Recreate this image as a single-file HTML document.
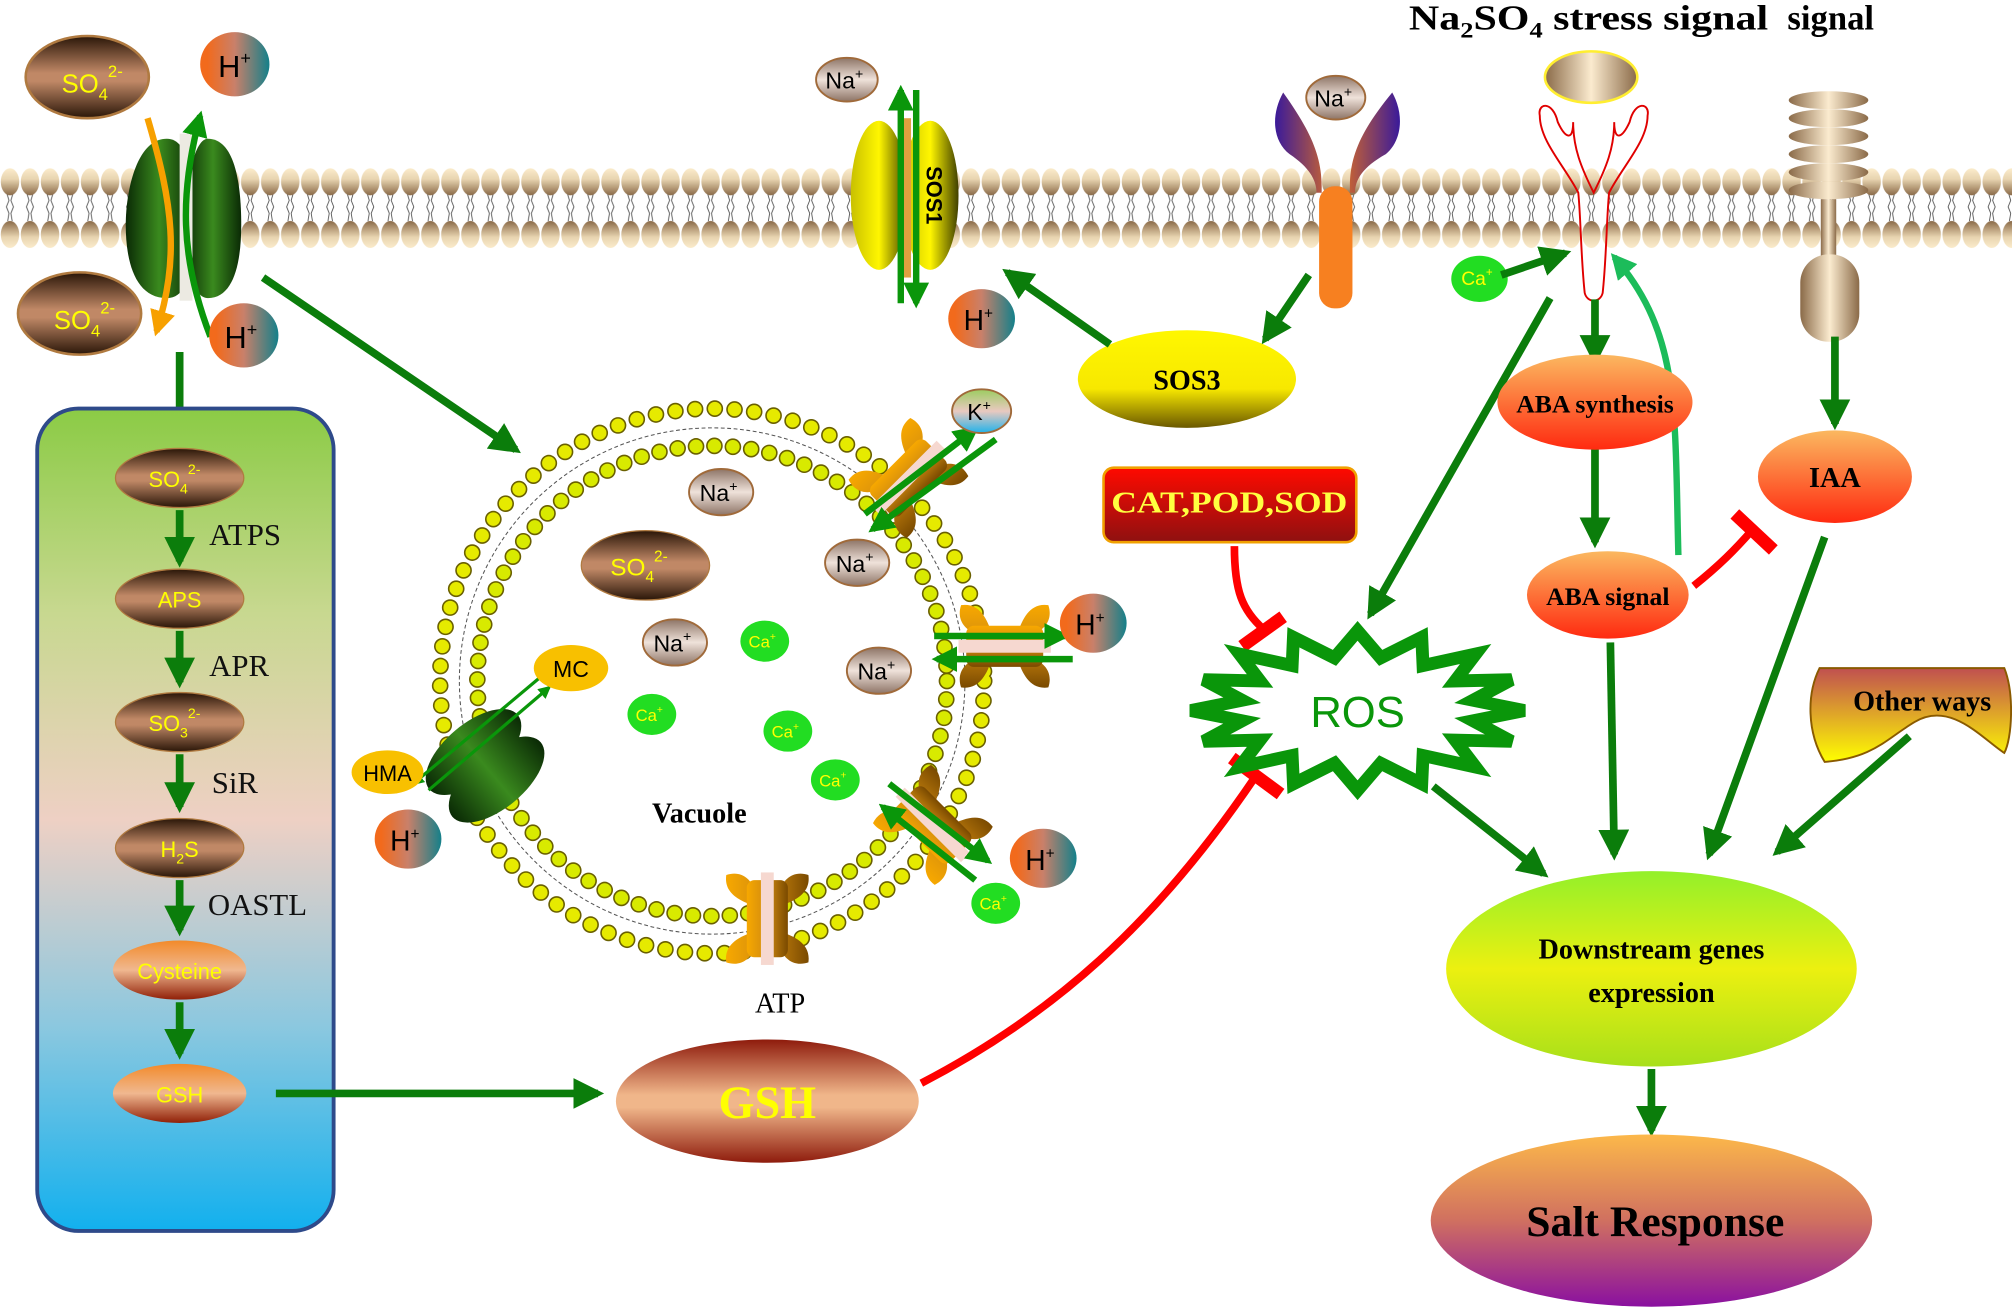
<!DOCTYPE html>
<html><head><meta charset="utf-8"><style>html,body{margin:0;padding:0;background:#fff}svg{display:block}</style></head><body>
<svg width="2012" height="1308" viewBox="0 0 1568 1018" preserveAspectRatio="none" xmlns="http://www.w3.org/2000/svg" font-family="Liberation Sans, sans-serif">
<defs>
<marker id="ah" viewBox="0 0 10 10" refX="8" refY="5" markerWidth="4" markerHeight="4" orient="auto" markerUnits="strokeWidth"><path d="M0,0L10,5L0,10z" fill="#0b7d0b"/></marker>
<marker id="ahl" viewBox="0 0 10 10" refX="8" refY="5" markerWidth="4" markerHeight="4" orient="auto" markerUnits="strokeWidth"><path d="M0,0L10,5L0,10z" fill="#1cbc5a"/></marker>
<marker id="aho" viewBox="0 0 10 10" refX="8" refY="5" markerWidth="4" markerHeight="4" orient="auto" markerUnits="strokeWidth"><path d="M0,0L10,5L0,10z" fill="#f7a000"/></marker>
<marker id="ahs" viewBox="0 0 10 10" refX="8" refY="5" markerWidth="4" markerHeight="4" orient="auto" markerUnits="strokeWidth"><path d="M0,0L10,5L0,10z" fill="#0a960a"/></marker>
<linearGradient id="brown" x1="0" y1="0" x2="0" y2="1"><stop offset="0" stop-color="#2a1608"/><stop offset=".45" stop-color="#c08866"/><stop offset=".55" stop-color="#c08866"/><stop offset="1" stop-color="#2a1608"/></linearGradient>
<linearGradient id="hplus" x1="0" y1="0" x2="1" y2="0"><stop offset=".1" stop-color="#f26a1c"/><stop offset=".5" stop-color="#c9806a"/><stop offset="1" stop-color="#14808a"/></linearGradient>
<linearGradient id="na" x1="0" y1="0" x2="0" y2="1"><stop offset="0" stop-color="#8d7466"/><stop offset=".5" stop-color="#efe2da"/><stop offset="1" stop-color="#8d7466"/></linearGradient>
<linearGradient id="kp" x1="0" y1="0" x2="0" y2="1"><stop offset="0" stop-color="#9ccc60"/><stop offset=".5" stop-color="#e9c9c0"/><stop offset="1" stop-color="#21b3ea"/></linearGradient>
<linearGradient id="box" x1="0" y1="0" x2="0" y2="1"><stop offset="0" stop-color="#8bcb45"/><stop offset=".25" stop-color="#c8d890"/><stop offset=".5" stop-color="#eed0c4"/><stop offset=".75" stop-color="#8cc8df"/><stop offset="1" stop-color="#12b0ee"/></linearGradient>
<linearGradient id="orng" x1="0" y1="0" x2="0" y2="1"><stop offset="0" stop-color="#fbb860"/><stop offset="1" stop-color="#ff2a10"/></linearGradient>
<linearGradient id="cys" x1="0" y1="0" x2="0" y2="1"><stop offset="0" stop-color="#f28a2a"/><stop offset=".5" stop-color="#f0b890"/><stop offset="1" stop-color="#902008"/></linearGradient>
<linearGradient id="gsh" x1="0" y1="0" x2="0" y2="1"><stop offset="0" stop-color="#8e1b0c"/><stop offset=".45" stop-color="#f0b68a"/><stop offset=".55" stop-color="#f0b68a"/><stop offset="1" stop-color="#8e1b0c"/></linearGradient>
<linearGradient id="yel" x1="0" y1="0" x2="0" y2="1"><stop offset="0" stop-color="#fff700"/><stop offset=".6" stop-color="#f7e800"/><stop offset="1" stop-color="#6a5800"/></linearGradient>
<linearGradient id="sos1" x1="0" y1="0" x2="1" y2="0"><stop offset="0" stop-color="#c8c000"/><stop offset=".5" stop-color="#fff600"/><stop offset="1" stop-color="#404000"/></linearGradient>
<linearGradient id="grn" x1="0" y1="0" x2="1" y2="0"><stop offset="0" stop-color="#0a2a05"/><stop offset=".5" stop-color="#3a8a1e"/><stop offset="1" stop-color="#0a2a05"/></linearGradient>
<linearGradient id="red" x1="0" y1="0" x2="0" y2="1"><stop offset="0" stop-color="#ff0a00"/><stop offset="1" stop-color="#8e1010"/></linearGradient>
<linearGradient id="down" x1="0" y1="0" x2="0" y2="1"><stop offset="0" stop-color="#93f02a"/><stop offset=".5" stop-color="#ecf010"/><stop offset="1" stop-color="#a8e01a"/></linearGradient>
<linearGradient id="salt" x1="0" y1="0" x2="0" y2="1"><stop offset="0" stop-color="#fcb84a"/><stop offset=".5" stop-color="#d07060"/><stop offset="1" stop-color="#8a10a0"/></linearGradient>
<linearGradient id="other" x1="0" y1="0" x2="0" y2="1"><stop offset="0" stop-color="#c05050"/><stop offset="1" stop-color="#ffff00"/></linearGradient>
<linearGradient id="ch" x1="0" y1="0" x2="1" y2="0"><stop offset="0" stop-color="#f7a800"/><stop offset=".5" stop-color="#d08a10"/><stop offset="1" stop-color="#7a4a00"/></linearGradient>
<linearGradient id="tan" x1="0" y1="0" x2="1" y2="0"><stop offset="0" stop-color="#8a6a48"/><stop offset=".5" stop-color="#fbebcf"/><stop offset="1" stop-color="#8a6a48"/></linearGradient>
<linearGradient id="yrec" x1="0" y1="0" x2="1" y2="0"><stop offset="0" stop-color="#3a1a9a"/><stop offset=".5" stop-color="#e07020"/><stop offset="1" stop-color="#3a1a9a"/></linearGradient>
<linearGradient id="headT" x1="0" y1="0" x2="0" y2="1"><stop offset="0" stop-color="#fbeccc"/><stop offset=".4" stop-color="#e8d4b0"/><stop offset="1" stop-color="#8a6a48"/></linearGradient>
<linearGradient id="headB" x1="0" y1="1" x2="0" y2="0"><stop offset="0" stop-color="#fbeccc"/><stop offset=".4" stop-color="#e8d4b0"/><stop offset="1" stop-color="#8a6a48"/></linearGradient>
<pattern id="mem" x="0" y="131" width="15.6" height="62" patternUnits="userSpaceOnUse">
<path d="M5.5,20 l1.5,5 -2,5 2,5 -1,6 M10,20 l-1.5,5 2,5 -2,5 1,6" stroke="#555" stroke-width=".7" fill="none"/>
<ellipse cx="7.8" cy="10.5" rx="7.2" ry="10.5" fill="url(#headT)"/>
<ellipse cx="7.8" cy="51.5" rx="7.2" ry="10.5" fill="url(#headB)"/>
</pattern>
<g id="chan"><path d="M-32,-34 C-20,-38 -12,-30 -10,-22 L-10,-10 C-22,-14 -34,-20 -32,-34z M32,-34 C20,-38 12,-30 10,-22 L10,-10 C22,-14 34,-20 32,-34z M-32,34 C-20,38 -12,30 -10,22 L-10,10 C-22,14 -34,20 -32,34z M32,34 C20,38 12,30 10,22 L10,10 C22,14 34,20 32,34z" fill="url(#ch)"/><rect x="-16" y="-30" width="32" height="60" rx="6" fill="url(#ch)"/><rect x="-5" y="-36" width="10" height="72" fill="#f6d8d0"/></g>
</defs>

<rect x="0" y="131" width="1568" height="62" fill="url(#mem)"/>

<path d="M130,108 C106,108 98,150 98,175 C98,205 106,232 130,232 C148,232 150,205 150,175 C150,140 148,108 130,108z" fill="url(#grn)"/>
<path d="M162,108 C150,108 144,150 144,175 C144,205 150,232 162,232 C182,232 188,205 188,175 C188,140 182,108 162,108z" fill="url(#grn)"/>
<rect x="140" y="104" width="10" height="130" fill="#eceae2"/>
<path d="M115,92 C135,160 140,200 122,258" stroke="#f7a000" stroke-width="5" fill="none" marker-end="url(#aho)"/>
<path d="M164,262 C140,200 140,150 156,90" stroke="#0a960a" stroke-width="5" fill="none" marker-end="url(#ahs)"/>
<ellipse cx="68" cy="60" rx="48" ry="32" fill="url(#brown)" stroke="#b07a40" stroke-width="2"/>
<text x="48" y="72" fill="#ffff00" font-size="20">SO<tspan font-size="13" dy="6">4</tspan><tspan font-size="13" dy="-18">2-</tspan></text>
<ellipse cx="62" cy="244" rx="48" ry="32" fill="url(#brown)" stroke="#b07a40" stroke-width="2"/>
<text x="42" y="256" fill="#ffff00" font-size="20">SO<tspan font-size="13" dy="6">4</tspan><tspan font-size="13" dy="-18">2-</tspan></text>
<ellipse cx="183" cy="50" rx="27" ry="25" fill="url(#hplus)"/><text x="170" y="60" font-size="24">H<tspan font-size="14" dy="-10">+</tspan></text>
<ellipse cx="190" cy="261" rx="27" ry="25" fill="url(#hplus)"/><text x="175" y="271" font-size="24">H<tspan font-size="14" dy="-10">+</tspan></text>

<line x1="140" y1="274" x2="140" y2="340" stroke="#0b7d0b" stroke-width="6" marker-end="url(#ah)"/>
<rect x="29" y="318" width="231" height="640" rx="32" fill="url(#box)" stroke="#2e4a8a" stroke-width="3"/>
<g font-size="17" text-anchor="middle" fill="#ffff00">
<ellipse cx="140" cy="372" rx="50" ry="23" fill="url(#brown)" stroke="#b07a40"/><text x="136" y="379">SO<tspan font-size="11" dy="5">4</tspan><tspan font-size="11" dy="-15">2-</tspan></text>
<ellipse cx="140" cy="466" rx="50" ry="23" fill="url(#brown)" stroke="#b07a40"/><text x="140" y="473">APS</text>
<ellipse cx="140" cy="562" rx="50" ry="23" fill="url(#brown)" stroke="#b07a40"/><text x="136" y="569">SO<tspan font-size="11" dy="5">3</tspan><tspan font-size="11" dy="-15">2-</tspan></text>
<ellipse cx="140" cy="660" rx="50" ry="23" fill="url(#brown)" stroke="#b07a40"/><text x="140" y="667">H<tspan font-size="11" dy="5">2</tspan><tspan dy="-5">S</tspan></text>
<ellipse cx="140" cy="755" rx="52" ry="23" fill="url(#cys)"/><text x="140" y="762">Cysteine</text>
<ellipse cx="140" cy="851" rx="52" ry="23" fill="url(#cys)"/><text x="140" y="858">GSH</text>
</g>
<g stroke="#0b7d0b" stroke-width="6" marker-end="url(#ah)">
<line x1="140" y1="397" x2="140" y2="437"/><line x1="140" y1="491" x2="140" y2="531"/><line x1="140" y1="587" x2="140" y2="628"/><line x1="140" y1="685" x2="140" y2="724"/><line x1="140" y1="780" x2="140" y2="820"/>
<line x1="215" y1="851" x2="466" y2="851"/>
<line x1="205" y1="216" x2="402" y2="350"/>
</g>
<g font-family="Liberation Serif, serif" font-size="24" fill="#111">
<text x="163" y="424">ATPS</text><text x="163" y="526">APR</text><text x="165" y="617">SiR</text><text x="162" y="712">OASTL</text>
</g>

<g fill="none">
<circle cx="555" cy="530" r="212" stroke="#6a6000" stroke-width="13" stroke-dasharray="0 15.4" stroke-linecap="round"/>
<circle cx="555" cy="530" r="212" stroke="#e6ea00" stroke-width="10.5" stroke-dasharray="0 15.4" stroke-linecap="round"/>
<circle cx="555" cy="530" r="183" stroke="#6a6000" stroke-width="13" stroke-dasharray="0 14.4" stroke-linecap="round"/>
<circle cx="555" cy="530" r="183" stroke="#d8ea00" stroke-width="10.5" stroke-dasharray="0 14.4" stroke-linecap="round"/>
<circle cx="555" cy="530" r="197" stroke="#555" stroke-width=".8" stroke-dasharray="3 2"/>
</g>
<use href="#chan" transform="translate(708,372) rotate(45)"/>
<use href="#chan" transform="translate(783,503) rotate(90)"/>
<use href="#chan" transform="translate(727,642) rotate(-45)"/>
<use href="#chan" transform="translate(598,715)"/>
<g transform="translate(378,596) rotate(-40)"><ellipse cx="0" cy="-14" rx="45" ry="22" fill="url(#grn)"/><ellipse cx="0" cy="14" rx="45" ry="22" fill="url(#grn)"/></g>
<g stroke="#0a960a" stroke-width="5" marker-end="url(#ahs)">
<line x1="674" y1="400" x2="760" y2="334"/><line x1="776" y1="342" x2="680" y2="412"/>
<line x1="728" y1="495" x2="830" y2="495"/><line x1="836" y1="513" x2="730" y2="513"/>
<line x1="693" y1="610" x2="770" y2="670"/><line x1="760" y1="685" x2="688" y2="628"/>
</g>
<g stroke="#0a960a" stroke-width="2.5"><line x1="334" y1="615" x2="428" y2="535" marker-end="url(#ahs)"/><line x1="420" y1="528" x2="322" y2="610" marker-end="url(#ahs)"/></g>

<g font-size="18" text-anchor="middle">
<ellipse cx="562" cy="383" rx="25" ry="18" fill="url(#na)" stroke="#a06a3a" stroke-width="1.5"/><text x="560" y="390">Na<tspan font-size="11" dy="-8">+</tspan></text>
<ellipse cx="668" cy="438" rx="25" ry="18" fill="url(#na)" stroke="#a06a3a" stroke-width="1.5"/><text x="666" y="445">Na<tspan font-size="11" dy="-8">+</tspan></text>
<ellipse cx="526" cy="500" rx="25" ry="18" fill="url(#na)" stroke="#a06a3a" stroke-width="1.5"/><text x="524" y="507">Na<tspan font-size="11" dy="-8">+</tspan></text>
<ellipse cx="685" cy="522" rx="25" ry="18" fill="url(#na)" stroke="#a06a3a" stroke-width="1.5"/><text x="683" y="529">Na<tspan font-size="11" dy="-8">+</tspan></text>
<ellipse cx="660" cy="62" rx="24" ry="17" fill="url(#na)" stroke="#a06a3a" stroke-width="1.5"/><text x="658" y="69">Na<tspan font-size="11" dy="-8">+</tspan></text>
<ellipse cx="503" cy="440" rx="50" ry="27" fill="url(#brown)" stroke="#b07a40"/><text x="498" y="448" fill="#ffff00" font-size="19">SO<tspan font-size="12" dy="5">4</tspan><tspan font-size="12" dy="-16">2-</tspan></text>
<ellipse cx="765" cy="320" rx="23" ry="17" fill="url(#kp)" stroke="#a06a3a" stroke-width="1.5"/><text x="763" y="327">K<tspan font-size="11" dy="-8">+</tspan></text>
</g>
<g fill="#22dd22"><ellipse cx="596" cy="499" rx="19" ry="16"/><ellipse cx="508" cy="556" rx="19" ry="16"/><ellipse cx="614" cy="569" rx="19" ry="16"/><ellipse cx="651" cy="607" rx="19" ry="16"/><ellipse cx="776" cy="703" rx="19" ry="16"/><ellipse cx="1153" cy="217" rx="22" ry="18"/></g>
<g fill="#ffff00" font-size="13" text-anchor="middle"><text x="594" y="504">Ca<tspan font-size="8" dy="-6">+</tspan></text><text x="506" y="561">Ca<tspan font-size="8" dy="-6">+</tspan></text><text x="612" y="574">Ca<tspan font-size="8" dy="-6">+</tspan></text><text x="649" y="612">Ca<tspan font-size="8" dy="-6">+</tspan></text><text x="774" y="708">Ca<tspan font-size="8" dy="-6">+</tspan></text><text x="1151" y="222" font-size="15">Ca<tspan font-size="9" dy="-7">+</tspan></text></g>
<ellipse cx="445" cy="520" rx="29" ry="18" fill="#f8c000"/><text x="445" y="527" font-size="18" text-anchor="middle">MC</text>
<ellipse cx="302" cy="601" rx="28" ry="17" fill="#f8c000"/><text x="302" y="608" font-size="17" text-anchor="middle">HMA</text>
<g font-size="22"><ellipse cx="318" cy="653" rx="26" ry="23" fill="url(#hplus)"/><text x="304" y="662">H<tspan font-size="12" dy="-9">+</tspan></text>
<ellipse cx="852" cy="485" rx="26" ry="23" fill="url(#hplus)"/><text x="838" y="494">H<tspan font-size="12" dy="-9">+</tspan></text>
<ellipse cx="813" cy="668" rx="26" ry="23" fill="url(#hplus)"/><text x="799" y="677">H<tspan font-size="12" dy="-9">+</tspan></text>
<ellipse cx="765" cy="248" rx="26" ry="23" fill="url(#hplus)"/><text x="751" y="257">H<tspan font-size="12" dy="-9">+</tspan></text></g>
<text x="545" y="640" font-family="Liberation Serif, serif" font-weight="bold" font-size="22" text-anchor="middle">Vacuole</text>
<text x="608" y="788" font-family="Liberation Serif, serif" font-size="22" text-anchor="middle">ATP</text>

<ellipse cx="598" cy="857" rx="118" ry="48" fill="url(#gsh)"/>
<text x="598" y="870" font-family="Liberation Serif, serif" font-weight="bold" font-size="36" fill="#ffff00" text-anchor="middle">GSH</text>
<path d="M718,843 C820,790 900,720 978,605" stroke="#ff0000" stroke-width="6" fill="none"/>
<line x1="960" y1="590" x2="998" y2="618" stroke="#ff0000" stroke-width="10"/>

<ellipse cx="685" cy="152" rx="22" ry="58" fill="url(#sos1)"/>
<ellipse cx="725" cy="152" rx="22" ry="58" fill="url(#sos1)"/>
<rect x="700" y="92" width="10" height="124" fill="#e0a040"/>
<text transform="translate(722,152) rotate(90)" font-size="17" font-weight="bold" text-anchor="middle">SOS1</text>
<g stroke="#0a960a" stroke-width="5" marker-end="url(#ahs)"><line x1="702" y1="236" x2="702" y2="70"/><line x1="714" y1="70" x2="714" y2="236"/></g>

<path d="M1000,72 C1020,100 1030,120 1030,145 L1030,232 C1030,242 1052,242 1052,232 L1052,145 C1052,120 1062,100 1085,72 C1095,90 1092,110 1080,120 C1062,130 1056,140 1056,150 L1026,150 C1026,140 1020,130 1005,120 C992,110 990,90 1000,72z" fill="url(#yrec)"/>
<rect x="1028" y="145" width="26" height="95" rx="12" fill="#f78020"/>
<ellipse cx="1041" cy="76" rx="23" ry="17" fill="url(#na)" stroke="#a06a3a" stroke-width="1.5"/><text x="1039" y="83" font-size="18" text-anchor="middle">Na<tspan font-size="11" dy="-8">+</tspan></text>

<ellipse cx="925" cy="295" rx="85" ry="38" fill="url(#yel)"/>
<text x="925" y="303" font-family="Liberation Serif, serif" font-weight="bold" font-size="22" text-anchor="middle">SOS3</text>
<g stroke="#0b7d0b" stroke-width="6" marker-end="url(#ah)"><line x1="1020" y1="214" x2="986" y2="264"/><line x1="865" y1="268" x2="785" y2="212"/></g>

<rect x="860" y="364" width="197" height="58" rx="8" fill="url(#red)" stroke="#f0a000" stroke-width="2"/>
<text x="958" y="399" font-family="Liberation Serif, serif" font-weight="bold" font-size="24" fill="#ffff40" text-anchor="middle" textLength="184" lengthAdjust="spacingAndGlyphs">CAT,POD,SOD</text>
<path d="M962,425 C962,460 968,475 985,490" stroke="#ff0000" stroke-width="6" fill="none"/>
<line x1="968" y1="503" x2="1000" y2="480" stroke="#ff0000" stroke-width="10"/>

<polygon points="1188,553 1148,561 1178,577 1134,576 1150,597 1109,588 1108,610 1076,594 1058,615 1040,594 1008,610 1007,588 966,597 982,576 938,577 968,561 928,553 968,545 938,529 982,530 966,509 1007,518 1008,496 1040,512 1058,491 1076,512 1108,496 1109,518 1150,509 1134,530 1178,529 1148,545" fill="#fff" stroke="#0a960a" stroke-width="10" stroke-linejoin="miter"/>
<text x="1058" y="566" font-size="34" fill="#0a960a" text-anchor="middle">ROS</text>

<text x="1098" y="23" font-family="Liberation Serif, serif" font-weight="bold" font-size="27" textLength="280" lengthAdjust="spacingAndGlyphs">Na<tspan font-size="17" dy="6">2</tspan><tspan dy="-6">SO</tspan><tspan font-size="17" dy="6">4</tspan><tspan dy="-6"> stress signal</tspan></text>
<text x="1393" y="23" font-family="Liberation Serif, serif" font-weight="bold" font-size="27">signal</text>

<ellipse cx="1240" cy="60" rx="36" ry="20" fill="url(#tan)" stroke="#ffee30" stroke-width="2"/>
<path d="M1235,228 C1232,200 1232,170 1230,150 C1220,130 1200,110 1200,90 C1198,80 1210,78 1214,95 C1220,108 1226,110 1226,95 C1226,115 1232,130 1242,150 C1252,130 1258,115 1258,95 C1258,110 1264,108 1270,95 C1274,78 1286,80 1284,90 C1284,110 1264,130 1254,150 C1252,170 1252,200 1249,228 C1247,236 1237,236 1235,228z" fill="none" stroke="#e00000" stroke-width="1.5"/>

<g fill="url(#tan)"><ellipse cx="1425" cy="78" rx="31" ry="7"/><ellipse cx="1425" cy="92" rx="31" ry="7"/><ellipse cx="1425" cy="106" rx="31" ry="7"/><ellipse cx="1425" cy="120" rx="31" ry="7"/><ellipse cx="1425" cy="134" rx="31" ry="7"/><ellipse cx="1425" cy="148" rx="31" ry="7"/></g>
<rect x="1419" y="155" width="12" height="100" fill="url(#tan)"/>
<rect x="1403" y="198" width="46" height="68" rx="22" fill="url(#tan)"/>

<g stroke="#0b7d0b" stroke-width="6" marker-end="url(#ah)">
<line x1="1170" y1="214" x2="1220" y2="197"/>
<line x1="1243" y1="233" x2="1243" y2="280"/>
<line x1="1243" y1="348" x2="1243" y2="422"/>
<line x1="1430" y1="262" x2="1430" y2="330"/>
<line x1="1208" y1="232" x2="1068" y2="478"/>
<line x1="1117" y1="612" x2="1203" y2="680"/>
<line x1="1255" y1="500" x2="1258" y2="665"/>
<line x1="1422" y1="418" x2="1332" y2="665"/>
<line x1="1488" y1="573" x2="1385" y2="663"/>
<line x1="1287" y1="832" x2="1287" y2="880"/>
</g>
<path d="M1308,432 C1305,320 1310,260 1258,200" stroke="#1cbc5a" stroke-width="5" fill="none" marker-end="url(#ahl)"/>
<path d="M1320,456 C1340,440 1352,428 1366,412" stroke="#ff0000" stroke-width="6" fill="none"/>
<line x1="1352" y1="400" x2="1382" y2="428" stroke="#ff0000" stroke-width="10"/>

<ellipse cx="1243" cy="313" rx="76" ry="37" fill="url(#orng)"/>
<text x="1243" y="321" font-family="Liberation Serif, serif" font-weight="bold" font-size="20" text-anchor="middle">ABA synthesis</text>
<ellipse cx="1253" cy="463" rx="63" ry="34" fill="url(#orng)"/>
<text x="1253" y="471" font-family="Liberation Serif, serif" font-weight="bold" font-size="20" text-anchor="middle">ABA signal</text>
<ellipse cx="1430" cy="371" rx="60" ry="36" fill="url(#orng)"/>
<text x="1430" y="379" font-family="Liberation Serif, serif" font-weight="bold" font-size="22" text-anchor="middle">IAA</text>
<path d="M1418,520 L1562,520 C1570,540 1568,575 1562,586 C1545,575 1520,545 1492,562 C1470,575 1460,590 1422,593 C1408,570 1408,540 1418,520z" fill="url(#other)" stroke="#8a5a00" stroke-width="1.5"/>
<text x="1498" y="553" font-family="Liberation Serif, serif" font-weight="bold" font-size="22" text-anchor="middle">Other ways</text>
<ellipse cx="1287" cy="754" rx="160" ry="76" fill="url(#down)"/>
<text x="1287" y="746" font-family="Liberation Serif, serif" font-weight="bold" font-size="22" text-anchor="middle">Downstream genes</text>
<text x="1287" y="780" font-family="Liberation Serif, serif" font-weight="bold" font-size="22" text-anchor="middle">expression</text>
<ellipse cx="1287" cy="950" rx="172" ry="67" fill="url(#salt)"/>
<text x="1290" y="962" font-family="Liberation Serif, serif" font-weight="bold" font-size="34" text-anchor="middle">Salt Response</text>
</svg>
</body></html>
